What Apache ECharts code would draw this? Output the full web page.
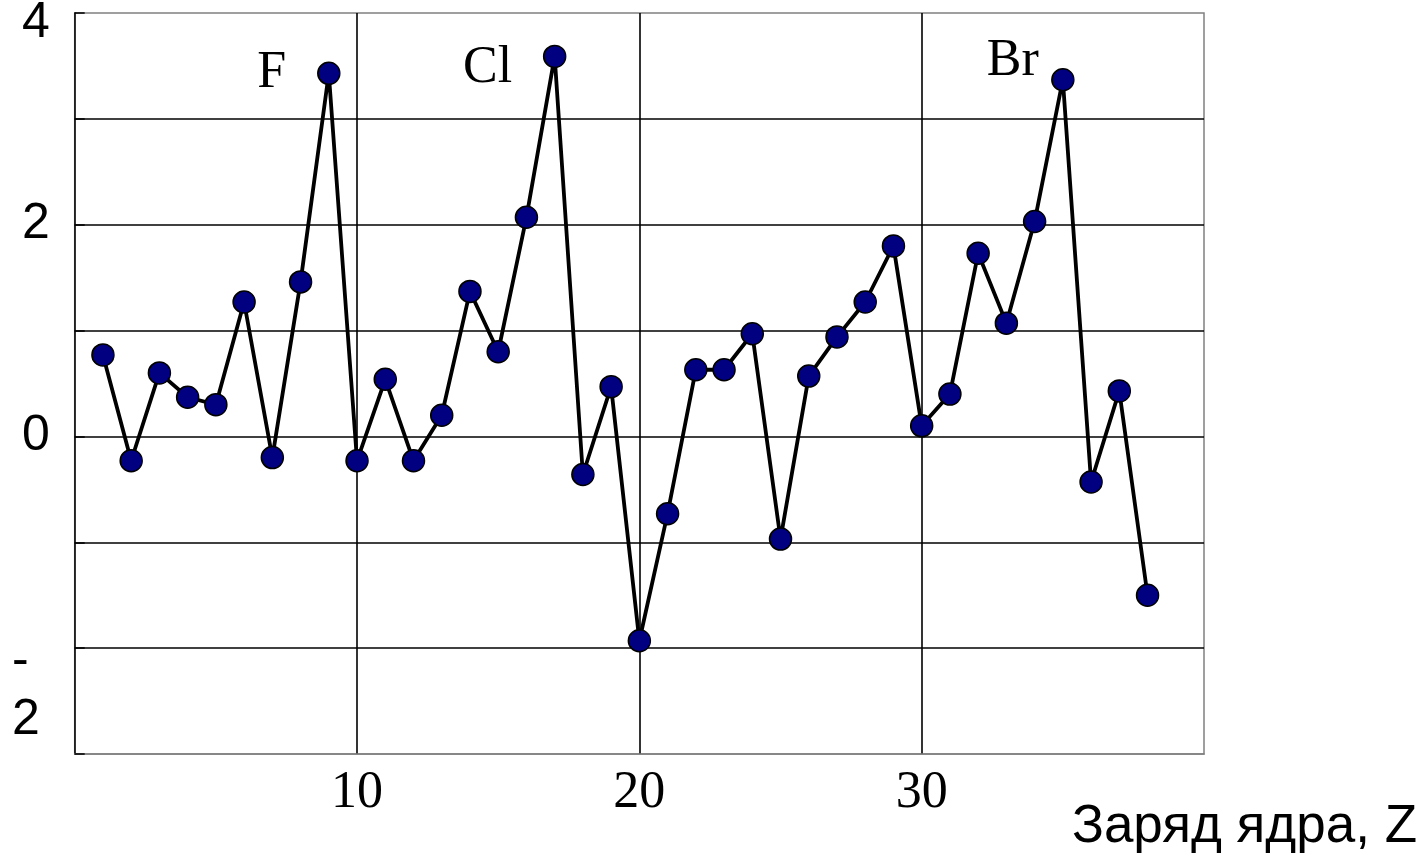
<!DOCTYPE html>
<html>
<head>
<meta charset="utf-8">
<script src="https://cdn.jsdelivr.net/npm/echarts@6/dist/echarts.min.js"></script>
<style>
  html, body { margin: 0; padding: 0; background: #fff; }
  #chart { width: 1422px; height: 855px; }
</style>
</head>
<body>
<div id="chart"></div>
<script>
// заряд ядра Z
const charges = [1, 2, 3, 4, 5, 6, 7, 8, 9, 10, 11, 12, 13, 14, 15, 16, 17, 18, 19,
  20, 21, 22, 23, 24, 25, 26, 27, 28, 29, 30, 31, 32, 33, 34, 35, 36, 37, 38];
const values = [0.77, -0.23, 0.60, 0.37, 0.30, 1.27, -0.20, 1.46, 3.43, -0.23,
  0.54, -0.23, 0.20, 1.37, 0.80, 2.07, 3.59, -0.36, 0.47,
  -1.93, -0.73, 0.63, 0.63, 0.97, -0.97, 0.57, 0.94, 1.27, 1.80, 0.10,
  0.40, 1.73, 1.07, 2.03, 3.37, -0.43, 0.43, -1.50];
// подписи галогенов
const halogens = ["F", "Cl", "Br"];
const halogenZ = [9, 17, 35];
const halogenOffsets = [[-57, 0], [-67, 12], [-50, -18]];

const xTicks = [10, 20, 30];
const yTicks = [4, 2, 0, -2];

const sans = "Liberation Sans";
const serif = "Liberation Serif";

const seriesData = charges.map((z, i) => {
  const k = halogenZ.indexOf(z);
  if (k < 0) return [z, values[i]];
  return {
    value: [z, values[i]],
    label: {
      show: true,
      formatter: halogens[k],
      position: "inside",
      offset: halogenOffsets[k],
      fontFamily: serif,
      fontSize: 52,
      color: "#000"
    }
  };
});

const chart = echarts.init(document.getElementById("chart"));
chart.setOption({
  backgroundColor: "#fff",
  animation: false,
  grid: {
    left: 74.7, right: 218, top: 13, bottom: 101,
    outerBoundsMode: "none",
    containLabel: false,
    show: true, borderColor: "#808080", borderWidth: 1.5
  },
  xAxis: {
    type: "value",
    min: 0, max: 40, interval: 10,
    name: "Заряд ядра, Z",
    nameLocation: "end",
    nameGap: 213,
    nameTextStyle: {
      fontFamily: sans, fontSize: 53, color: "#000",
      align: "right", verticalAlign: "top",
      lineHeight: 146
    },
    axisLine: { onZero: false, lineStyle: { color: "#808080", width: 1.5 } },
    axisTick: { show: false },
    splitLine: { show: true, showMinLine: false, showMaxLine: false,
      lineStyle: { color: "#000", width: 1.6 } },
    axisLabel: {
      fontFamily: serif, fontSize: 52, color: "#000", margin: 13,
      formatter: v => (xTicks.indexOf(v) >= 0 ? String(v) : "")
    }
  },
  yAxis: {
    type: "value",
    min: -3, max: 4, interval: 1,
    axisLine: { show: true, onZero: false, lineStyle: { color: "#000", width: 1.5 } },
    axisTick: { show: true, inside: true, length: 10, lineStyle: { color: "#000", width: 1.5 } },
    splitLine: { show: true, showMinLine: false, showMaxLine: false,
      lineStyle: { color: "#000", width: 1.6 } },
    axisLabel: {
      fontFamily: sans, fontSize: 50, color: "#000", margin: 25,
      formatter: v => {
        if (yTicks.indexOf(v) < 0) return "";
        if (v === 4) return "{top|4}";
        if (v < 0) return "{gap| }\n{neg|-}\n{neg|" + Math.abs(v) + "}";
        return String(v);
      },
      rich: {
        top: { fontFamily: sans, fontSize: 50, color: "#000", padding: [20, 0, 0, 0] },
        gap: { fontSize: 10, height: 85, lineHeight: 85 },
        neg: { fontFamily: sans, fontSize: 50, color: "#000", lineHeight: 59,
          align: "left", padding: [0, 10, 0, 0] }
      }
    }
  },
  series: [{
    type: "line",
    data: seriesData,
    symbol: "circle",
    symbolSize: 22,
    itemStyle: { color: "#000080", borderColor: "#000", borderWidth: 1.5 },
    lineStyle: { color: "#000", width: 3.8 }
  }]
});
</script>
</body>
</html>
